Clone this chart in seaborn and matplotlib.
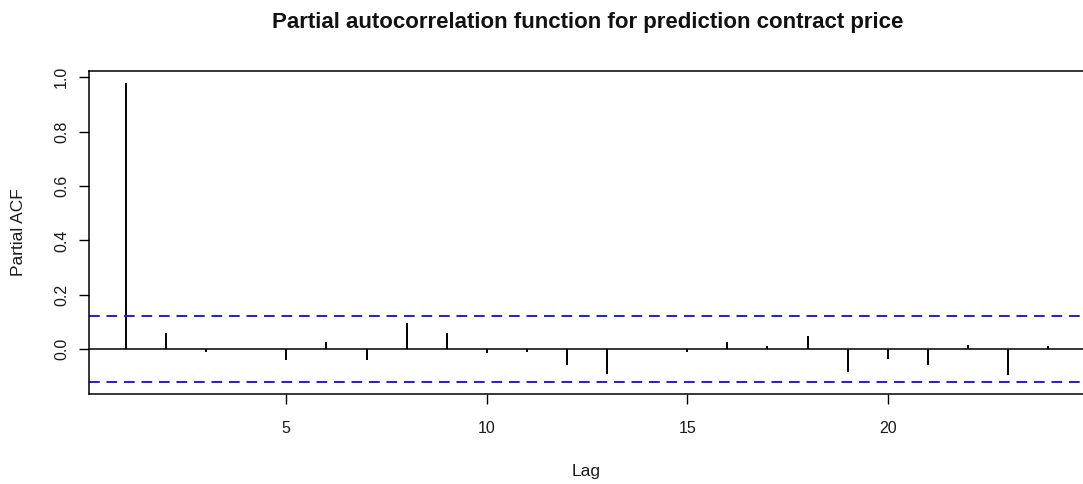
import numpy as np
import pandas as pd
import matplotlib
matplotlib.use("Agg")
import matplotlib.pyplot as plt
import seaborn as sns

# Partial autocorrelations of the contract price series, lags 1..24
lags = list(range(1, 25))
pacf_values = [0.978, 0.058, -0.010, 0.002, -0.040, 0.027, -0.040, 0.096,
               0.058, -0.015, -0.010, -0.058, -0.090, 0.002, -0.010, 0.027,
               0.010, 0.047, -0.084, -0.035, -0.058, 0.016, -0.096, 0.010]
conf_bound = 0.12
x_ticks = [5, 10, 15, 20]
y_ticks = [0.0, 0.2, 0.4, 0.6, 0.8, 1.0]

df = pd.DataFrame({"Lag": lags, "PACF": pacf_values})

sns.set_theme(style="white")
plt.rcParams["font.family"] = ["Liberation Sans", "DejaVu Sans"]

fig = plt.figure(figsize=(10.83, 4.84), dpi=100)
ax = fig.add_axes([0.0822, 0.186, 0.9197, 0.667])

# stems from zero to each partial autocorrelation
ax.vlines(df["Lag"], 0, df["PACF"], color="black", linewidth=1.4)
ax.axhline(0, color="black", linewidth=1.1)
for b in (conf_bound, -conf_bound):
    ax.axhline(b, color="#1a1aff", linewidth=1.4, linestyle=(0, (5.5, 3.5)))

ax.set_xlim(0.08, 24.92)
ax.set_ylim(-0.165, 1.022)
ax.set_xticks(x_ticks)
ax.set_yticks(y_ticks)
ax.set_xticklabels([str(t) for t in x_ticks], fontsize=11.5)
ax.set_yticklabels([f"{t:.1f}" for t in y_ticks], fontsize=11.5,
                   rotation=90, va="center")
ax.tick_params(axis="both", direction="out", length=7.5, width=1,
               color="black", labelcolor="#1a1a1a", bottom=True, left=True)
ax.tick_params(axis="x", pad=12)
ax.tick_params(axis="y", pad=7)

for s in ax.spines.values():
    s.set_color("black")
    s.set_linewidth(1.1)

fig.text(0.0175, 0.52, "Partial ACF", rotation=90, ha="center", va="center",
         fontsize=12.5, color="#1a1a1a")
fig.text(0.541, 0.025, "Lag", ha="center", va="center",
         fontsize=12.5, color="#1a1a1a")
fig.text(0.5425, 0.953, "Partial autocorrelation function for prediction contract price",
         ha="center", va="center", fontsize=16, fontweight="bold",
         color="#111111")

fig.savefig("out.png", dpi=100)
